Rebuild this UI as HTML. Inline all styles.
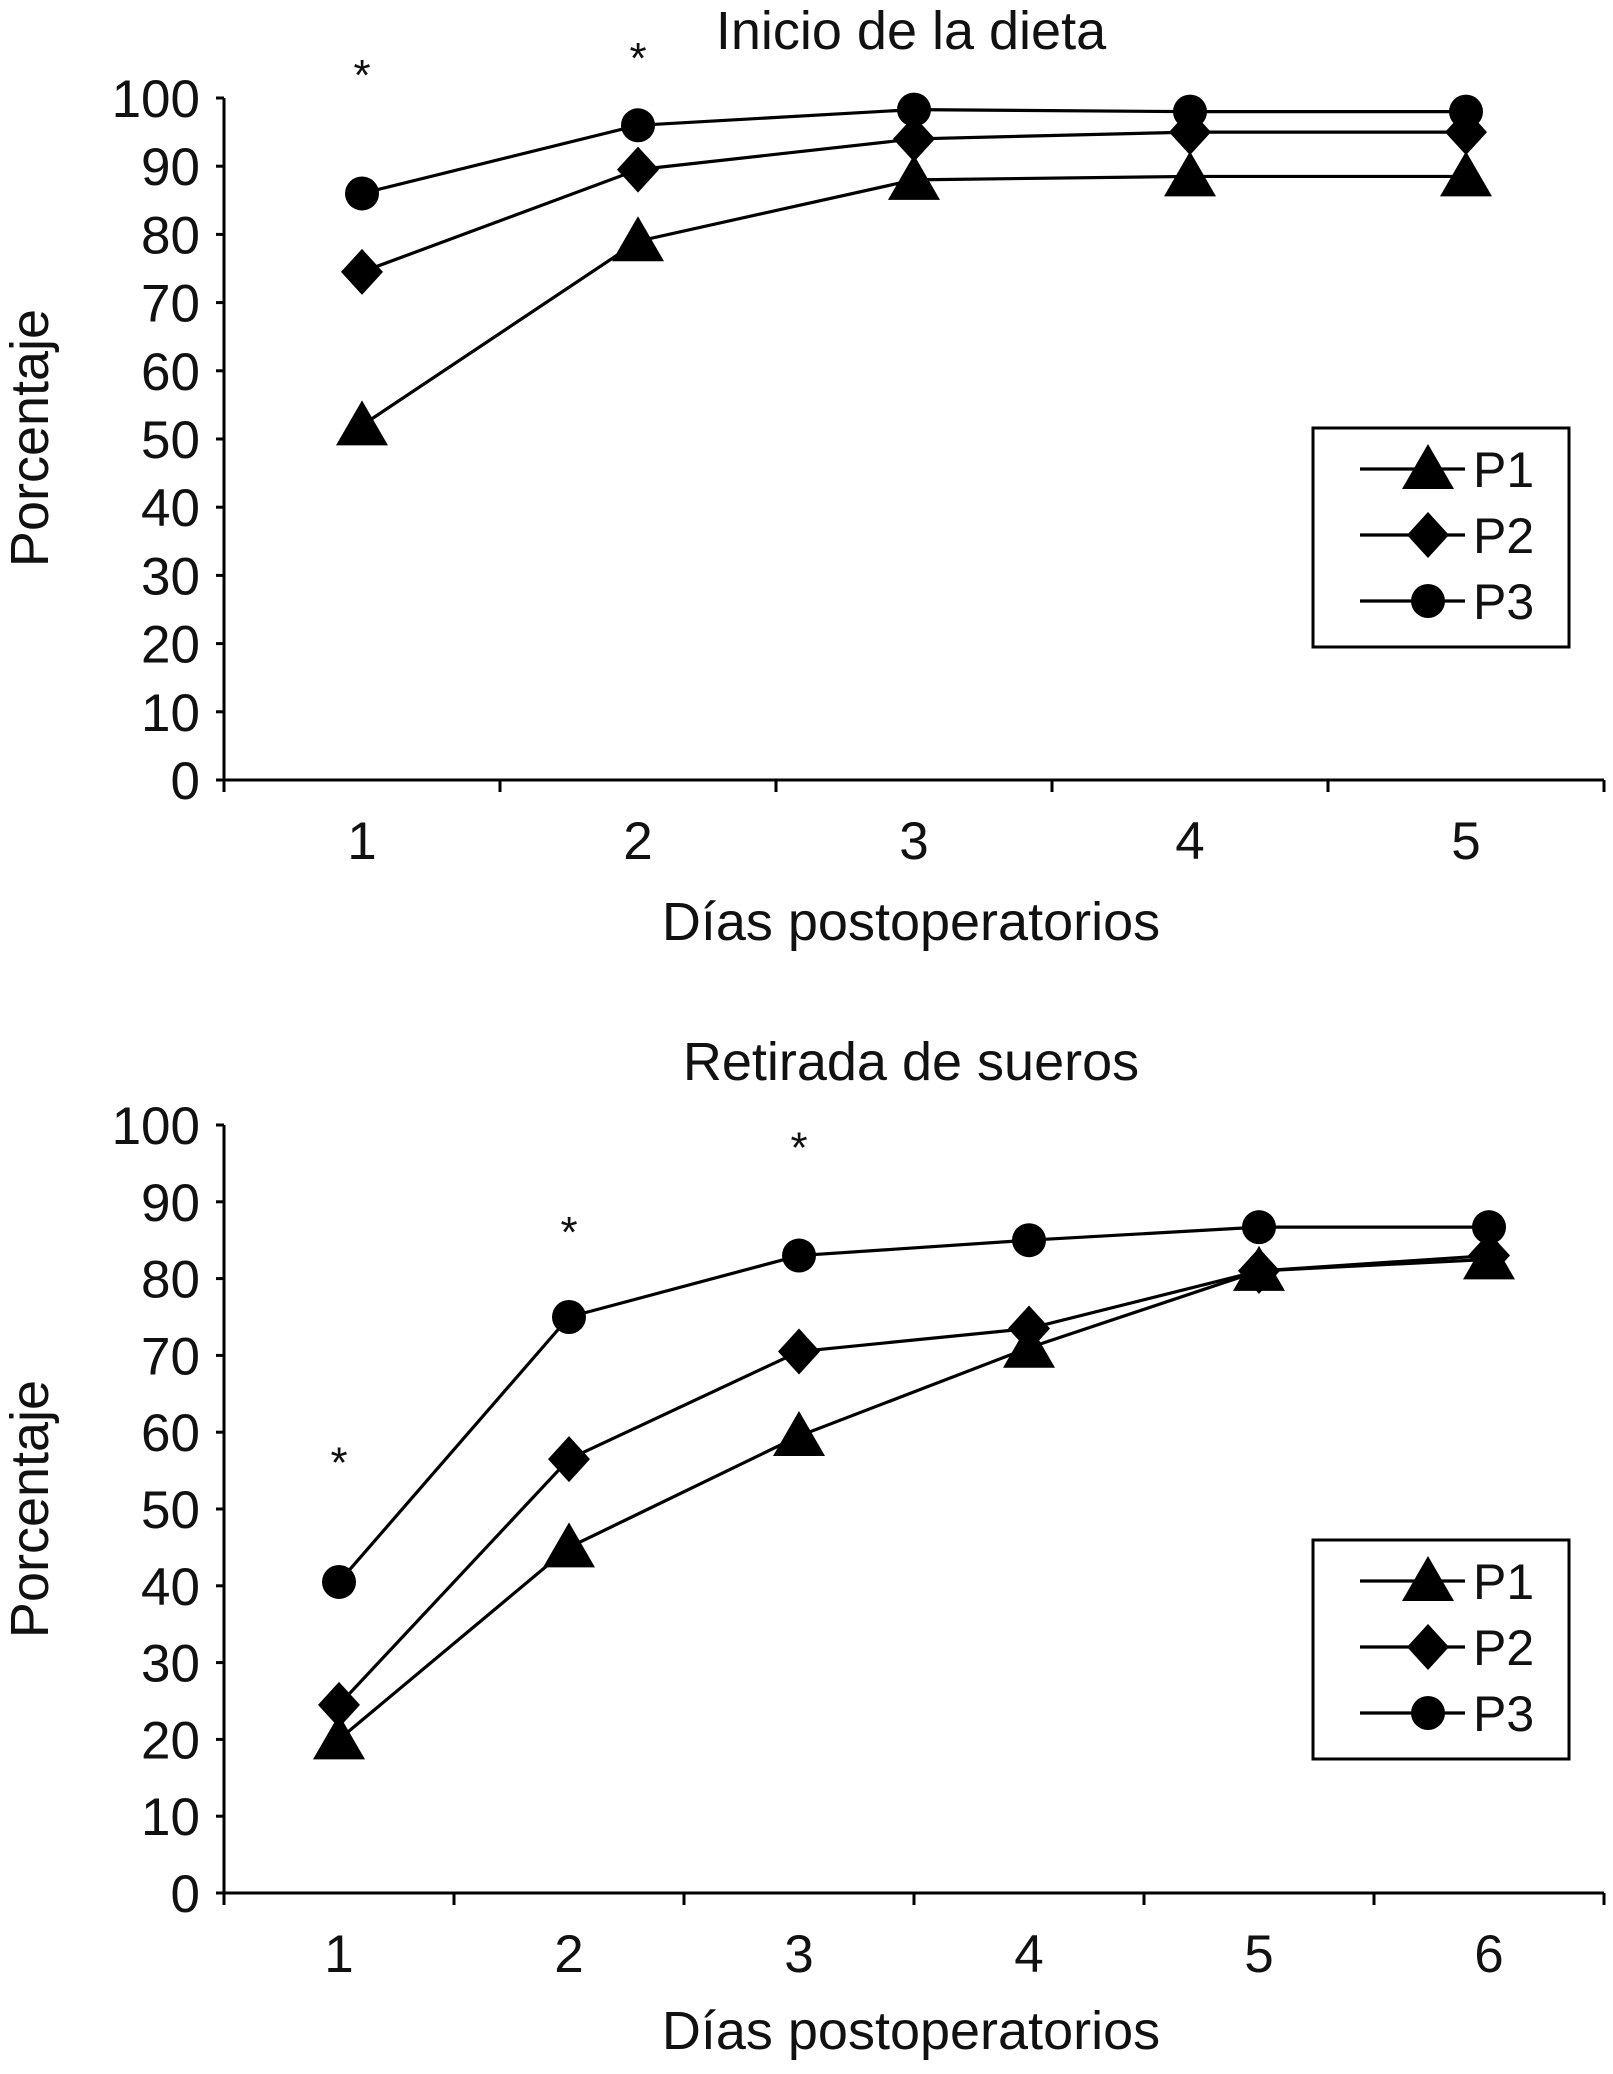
<!DOCTYPE html>
<html><head><meta charset="utf-8"><style>
html,body{margin:0;padding:0;background:#fff;}
svg{display:block;font-family:"Liberation Sans",Arial,sans-serif;}
</style></head><body>
<svg id="chart" width="1613" height="2074" viewBox="0 0 1613 2074" xmlns="http://www.w3.org/2000/svg"></svg>
<script>
// Top chart data
const topDays = ["1","2","3","4","5"];
const topP1 = [52, 79, 88, 88.5, 88.5];
const topP2 = [74.5, 89.5, 94, 95, 95];
const topP3 = [86, 96, 98.3, 98, 98];
const topStars = [105, 107.5, null, null, null];
// Bottom chart data
const botDays = ["1","2","3","4","5","6"];
const botP1 = [20, 45, 59.5, 71, 81, 82.5];
const botP2 = [24.5, 56.5, 70.5, 73.5, 81, 83];
const botP3 = [40.5, 75, 83, 85, 86.7, 86.7];
const botStars = [57.5, 87.5, 98.5, null, null, null];
const yTicks = [0,10,20,30,40,50,60,70,80,90,100];
const seriesNames = ["P1","P2","P3"];

const NS="http://www.w3.org/2000/svg";
const svg=document.getElementById('chart');
function el(tag,attrs,parent){const e=document.createElementNS(NS,tag);for(const k in attrs)e.setAttribute(k,attrs[k]);(parent||svg).appendChild(e);return e;}
function txt(s,attrs,parent){const e=el('text',attrs,parent);e.textContent=s;return e;}

function marker(g,kind,cx,cy){
  let m;
  if(kind===0){m=el('polygon',{points:`${cx},${cy-25} ${cx-26},${cy+20} ${cx+26},${cy+20}`,fill:'#000'},g);}
  else if(kind===1){m=el('polygon',{points:`${cx},${cy-23} ${cx+21},${cy} ${cx},${cy+23} ${cx-21},${cy}`,fill:'#000'},g);}
  else {m=el('circle',{cx:cx,cy:cy,r:17,fill:'#000'},g);}
  return m;
}

function drawChart(cfg){
  const g=el('g',{});
  
  
  const n=cfg.days.length;
  const band=(cfg.x1-cfg.x0)/n;
  const xs=i=>cfg.x0+band*(i+0.5);
  const ys=v=>cfg.y0-(v/100)*(cfg.y0-cfg.y100);
  const t=txt(cfg.title,{x:cfg.titleX,y:cfg.titleY,'font-size':54,'text-anchor':'middle',fill:'#111'},g);
  
  
  const ax=el('g',{},g);
  
  
  el('line',{x1:cfg.x0,y1:cfg.y100,x2:cfg.x0,y2:cfg.y0,stroke:'#000','stroke-width':3},ax);
  el('line',{x1:cfg.x0-8,y1:cfg.y0,x2:cfg.x1,y2:cfg.y0,stroke:'#000','stroke-width':3},ax);
  yTicks.forEach(v=>{
    el('line',{x1:cfg.x0-8,y1:ys(v),x2:cfg.x0,y2:ys(v),stroke:'#000','stroke-width':3},ax);
    const l=txt(String(v),{x:cfg.x0-24,y:ys(v)+19,'font-size':53,'text-anchor':'end',fill:'#111'},ax);
    
    
  });
  for(let i=0;i<=n;i++){
    el('line',{x1:cfg.x0+band*i,y1:cfg.y0,x2:cfg.x0+band*i,y2:cfg.y0+12,stroke:'#000','stroke-width':3},ax);
  }
  cfg.days.forEach((d,i)=>{
    const l=txt(d,{x:xs(i),y:cfg.y0+79,'font-size':53,'text-anchor':'middle',fill:'#111'},ax);
    
    
  });
  const yt=txt('Porcentaje',{x:0,y:0,'font-size':54,'text-anchor':'middle',fill:'#111',transform:`translate(${cfg.yTitleX},${cfg.yTitleY}) rotate(-90)`},g);
  
  
  const xt=txt('Días postoperatorios',{x:cfg.xTitleX,y:cfg.xTitleY,'font-size':54,'text-anchor':'middle',fill:'#111'},g);
  
  
  cfg.series.forEach((vals,k)=>{
    const sg=el('g',{},g);
    
    
    el('polyline',{points:vals.map((v,i)=>xs(i)+','+ys(v)).join(' '),fill:'none',stroke:'#000','stroke-width':3.2},sg);
    vals.forEach((v,i)=>{
      const m=marker(sg,k,xs(i),ys(v));
      
      
    });
  });
  cfg.stars.forEach((v,i)=>{
    if(v===null)return;
    const s=txt('*',{x:xs(i),y:ys(v)+26,'font-size':44,'text-anchor':'middle',fill:'#111'},g);
    
    
  });
  const lg=el('g',{},g);
  
  
  el('rect',{x:cfg.legX,y:cfg.legY,width:256,height:219,fill:'#fff',stroke:'#000','stroke-width':3},lg);
  seriesNames.forEach((nm,k)=>{
    const ry=cfg.legY+41+k*66;
    const e=el('g',{},lg);
    
    
    el('line',{x1:cfg.legX+47,y1:ry,x2:cfg.legX+152,y2:ry,stroke:'#000','stroke-width':3.2},e);
    marker(e,k,cfg.legX+115,ry);
    txt(nm,{x:cfg.legX+160,y:ry+18,'font-size':50,fill:'#111'},e);
  });
}

drawChart({name:'chart-inicio-dieta',title:'Inicio de la dieta',titleX:911,titleY:49,days:topDays,
  series:[topP1,topP2,topP3],stars:topStars,x0:224,x1:1604,y0:780,y100:98,
  yTitleX:48,yTitleY:438,xTitleX:911,xTitleY:940,legX:1313,legY:428});
drawChart({name:'chart-retirada-sueros',title:'Retirada de sueros',titleX:911,titleY:1080,days:botDays,
  series:[botP1,botP2,botP3],stars:botStars,x0:224,x1:1604,y0:1893,y100:1125,
  yTitleX:48,yTitleY:1509,xTitleX:911,xTitleY:2049,legX:1313,legY:1540});
</script>
</body></html>
